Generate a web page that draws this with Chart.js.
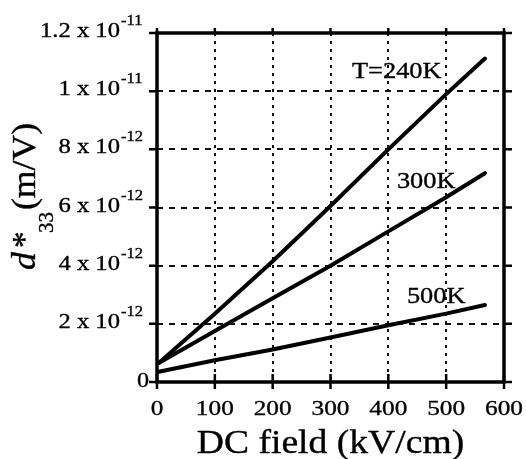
<!DOCTYPE html>
<html>
<head>
<meta charset="utf-8">
<script src="https://cdn.jsdelivr.net/npm/chart.js@4.4.0/dist/chart.umd.min.js"></script>
<style>
  html, body { margin: 0; padding: 0; background: #fff; }
  #wrap { width: 526px; height: 459px; }
</style>
</head>
<body>
<div id="wrap"><canvas id="myChart"></canvas></div>
<script>
// DC field (kV/cm) and d*33 (m/V) at three temperatures
const fieldKV = [3, 100, 200, 300, 400, 500, 567];
const d33At240K = [0.65e-12, 2.35e-12, 4.15e-12, 6.05e-12, 8.00e-12, 9.90e-12, 11.12e-12];
const d33At300K = [0.65e-12, 1.75e-12, 2.88e-12, 4.00e-12, 5.18e-12, 6.35e-12, 7.18e-12];
const d33At500K = [0.35e-12, 0.75e-12, 1.12e-12, 1.53e-12, 1.95e-12, 2.35e-12, 2.65e-12];
const seriesNames = ['T=240K', '300K', '500K'];

const xTicks = [0, 100, 200, 300, 400, 500, 600];
const yTicks = [0, 2e-12, 4e-12, 6e-12, 8e-12, 1e-11, 1.2e-11];
const yTickBase = ['0', '2 x 10', '4 x 10', '6 x 10', '8 x 10', '1 x 10', '1.2 x 10'];
const yTickExp = ['', '-12', '-12', '-12', '-12', '-11', '-11'];

const serif = '"Liberation Serif", "Times New Roman", serif';

function points(ys) {
  return fieldKV.map((x, i) => ({ x: x, y: ys[i] }));
}

// text with a slight horizontal stretch and a thin outline for weight
function drawText(ctx, text, x, y, size, align, sx, style) {
  ctx.save();
  ctx.translate(x, y);
  ctx.scale(sx, 1);
  ctx.font = (style ? style + ' ' : '') + size + 'px ' + serif;
  ctx.textAlign = align;
  ctx.textBaseline = 'alphabetic';
  ctx.fillStyle = '#000';
  ctx.strokeStyle = '#000';
  ctx.lineWidth = 0.35;
  ctx.fillText(text, 0, 0);
  ctx.strokeText(text, 0, 0);
  ctx.restore();
}

// where each curve's name sits, relative to the curve's last point
const labelOffsets = [[-133, 19], [-88, 15], [-78, -2]];

const frameAndText = {
  id: 'frameAndText',
  afterDraw(chart) {
    const ctx = chart.ctx;
    const a = chart.chartArea;
    const xs = chart.scales.x, ys = chart.scales.y;

    ctx.save();
    ctx.strokeStyle = '#000';
    ctx.lineWidth = 3.5;
    ctx.strokeRect(a.left, a.top, a.right - a.left, a.bottom - a.top);

    ctx.lineWidth = 2.5;
    ctx.beginPath();
    yTicks.forEach(v => {
      const py = ys.getPixelForValue(v);
      ctx.moveTo(a.left - 8, py); ctx.lineTo(a.left, py);
      ctx.moveTo(a.right, py); ctx.lineTo(a.right + 8, py);
    });
    xTicks.forEach(v => {
      const px = xs.getPixelForValue(v);
      ctx.moveTo(px, a.bottom - 8); ctx.lineTo(px, a.bottom + 7);
      ctx.moveTo(px, a.top - 5); ctx.lineTo(px, a.top);
    });
    ctx.stroke();
    ctx.restore();

    // y tick labels with raised exponents
    yTicks.forEach((v, i) => {
      const py = ys.getPixelForValue(v);
      if (!yTickExp[i]) {
        drawText(ctx, yTickBase[i], a.left - 8, py + 5, 22, 'right', 1.1);
      } else {
        drawText(ctx, yTickBase[i], a.left - 37, py + 4, 22, 'right', 1.12);
        drawText(ctx, yTickExp[i], a.left - 36, py - 8, 15, 'left', 1.1);
      }
    });

    xTicks.forEach(v => {
      drawText(ctx, String(v), xs.getPixelForValue(v), a.bottom + 33, 22, 'center', 1.15);
    });

    drawText(ctx, 'DC field (kV/cm)', (a.left + a.right) / 2, 453, 33, 'center', 1.14);

    // rotated y title: d*33 (m/V)
    ctx.save();
    ctx.translate(35, 270);
    ctx.rotate(-Math.PI / 2);
    drawText(ctx, 'd', 0, 0, 33, 'left', 1.08, 'italic');
    drawText(ctx, '*', 22, 0, 33, 'left', 1.0);
    drawText(ctx, '33', 37, 18, 21, 'left', 1.0);
    drawText(ctx, '(m/V)', 60, 0, 33, 'left', 1.08);
    ctx.restore();

    // curve names
    chart.data.datasets.forEach((ds, i) => {
      const meta = chart.getDatasetMeta(i);
      const last = meta.data[meta.data.length - 1];
      drawText(ctx, seriesNames[i], last.x + labelOffsets[i][0], last.y + labelOffsets[i][1], 24, 'left', 1.1);
    });
  }
};

const lineStyle = {
  borderColor: '#000',
  borderWidth: 4,
  borderCapStyle: 'round',
  borderJoinStyle: 'round',
  pointRadius: 0,
  tension: 0,
  fill: false,
};

const ctx = document.getElementById('myChart').getContext('2d');
new Chart(ctx, {
  type: 'line',
  data: {
    datasets: [
      { label: seriesNames[0], data: points(d33At240K), ...lineStyle },
      { label: seriesNames[1], data: points(d33At300K), ...lineStyle },
      { label: seriesNames[2], data: points(d33At500K), ...lineStyle },
    ]
  },
  options: {
    responsive: true,
    maintainAspectRatio: false,
    animation: false,
    layout: { padding: { left: 157, right: 22, top: 33, bottom: 77 } },
    scales: {
      x: {
        type: 'linear',
        min: 0,
        max: 600,
        afterBuildTicks: s => { s.ticks = xTicks.map(v => ({ value: v })); },
        ticks: { display: false },
        grid: { color: '#111', lineWidth: 2, drawTicks: false },
        border: { display: false, dash: [3, 5] },
      },
      y: {
        type: 'linear',
        min: 0,
        max: 1.2e-11,
        afterBuildTicks: s => { s.ticks = yTicks.map(v => ({ value: v })); },
        ticks: { display: false },
        grid: { color: '#111', lineWidth: 2, drawTicks: false },
        border: { display: false, dash: [6, 6] },
      }
    },
    plugins: {
      legend: { display: false },
      tooltip: { enabled: false },
    }
  },
  plugins: [frameAndText]
});
</script>
</body>
</html>
